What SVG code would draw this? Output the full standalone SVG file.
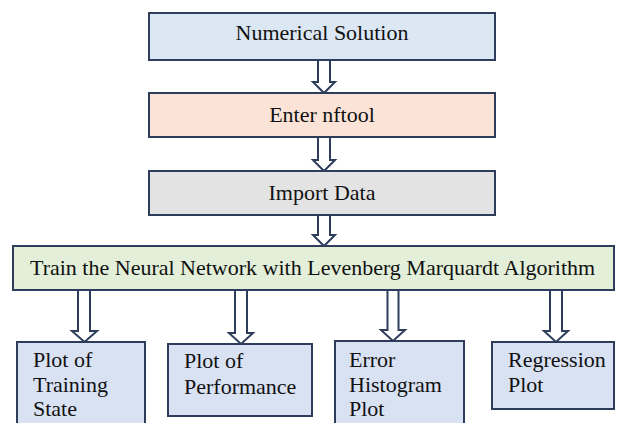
<svg xmlns="http://www.w3.org/2000/svg" width="619" height="423" viewBox="0 0 619 423">
<style>
.box{stroke:#2f3d5c;stroke-width:2}
.t{font-family:"Liberation Serif","Times New Roman",serif;font-size:22px;fill:#111}
.c{text-anchor:middle}
.arr{fill:#fff;stroke:#2f3d5c;stroke-width:2;stroke-linejoin:miter}
</style>
<rect width="619" height="423" fill="#fff"/>
<g id="connectors">
<path class="arr" d="M318,60 V82 H313 L324,93 L335,82 H330 V60"/>
<path class="arr" d="M318,137 V160 H313 L324,171 L335,160 H330 V137"/>
<path class="arr" d="M318,215 V235 H313 L324,246 L335,235 H330 V215"/>
<path class="arr" d="M78,290 V331 H72 L84.5,342 L97,331 H90 V290"/>
<path class="arr" d="M235,290 V333 H229 L241,344 L253,333 H247 V290"/>
<path class="arr" d="M387.5,290 V330 H381 L393,341 L405,330 H398.5 V290"/>
<path class="arr" d="M550,290 V331 H544 L556,342 L568,331 H562 V290"/>
</g>
<g id="numerical">
<rect class="box" x="149" y="13" width="346" height="47" fill="#dce7f4"/>
<text class="t c" x="322" y="40">Numerical Solution</text>
</g>
<g id="nftool">
<rect class="box" x="149" y="93" width="346" height="44" fill="#fbe4d7"/>
<text class="t c" x="322" y="122">Enter nftool</text>
</g>
<g id="import">
<rect class="box" x="149" y="171" width="346" height="44" fill="#e3e3e3"/>
<text class="t c" x="322" y="200">Import Data</text>
</g>
<g id="train">
<rect class="box" x="13" y="246" width="601" height="44" fill="#e3efd9"/>
<text class="t" x="30" y="275">Train the Neural Network with Levenberg Marquardt Algorithm</text>
</g>
<g id="training-state">
<rect class="box" x="17" y="342" width="128" height="90" fill="#d9e2f3"/>
<text class="t" x="33" y="367">Plot of</text>
<text class="t" x="33" y="392">Training</text>
<text class="t" x="33" y="416">State</text>
</g>
<g id="performance">
<rect class="box" x="168" y="344" width="144" height="72" fill="#d9e2f3"/>
<text class="t" x="184" y="368">Plot of</text>
<text class="t" x="184" y="394">Performance</text>
</g>
<g id="error-histogram">
<rect class="box" x="335" y="341" width="129" height="91" fill="#d9e2f3"/>
<text class="t" x="349" y="367">Error</text>
<text class="t" x="349" y="392">Histogram</text>
<text class="t" x="349" y="416">Plot</text>
</g>
<g id="regression">
<rect class="box" x="492" y="342" width="122" height="67" fill="#d9e2f3"/>
<text class="t" x="508" y="367">Regression</text>
<text class="t" x="508" y="392">Plot</text>
</g>
</svg>
